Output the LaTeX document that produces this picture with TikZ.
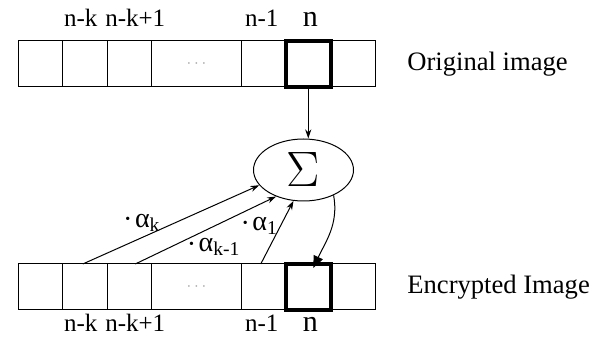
\documentclass[tikz,border=0pt]{standalone}
\usepackage{fontspec}
\setmainfont{Liberation Serif}
\usetikzlibrary{positioning, arrows.meta, shapes.geometric}

\newcommand{\wdot}{\raisebox{0.25ex}{\fontsize{7}{7}\selectfont•}\,}

\begin{document}
\begin{tikzpicture}[
  x=0.5pt, y=-0.5pt,
  node distance=0pt,
  cell/.style={
    draw, line width=0.5pt, inner sep=0pt, outer sep=0pt,
    minimum width=22.25pt, minimum height=23pt
  },
  widecell/.style={cell, minimum width=45pt, text=gray!70,
    font=\fontsize{8}{8}\selectfont},
  boldcell/.style={cell, line width=2pt},
  idx/.style={font=\rmfamily\fontsize{12.5}{12.5}\selectfont, inner sep=1pt,
    text height=8.5pt, text depth=0pt},
  bigidx/.style={idx, font=\rmfamily\fontsize{15}{15}\selectfont},
  caption/.style={font=\fontsize{13.3}{14}\selectfont, inner sep=0pt},
  coef/.style={font=\fontsize{14}{14}\selectfont, inner sep=1pt},
  flow/.style={-{Stealth[length=4.5pt,width=3pt]}, line width=0.5pt},
]
\useasboundingbox (0,0) rectangle (599,341);

% Original image row
\node[cell, anchor=west] (t0) at (18,64) {};
\node[cell, right=of t0] (t1) {};
\node[cell, right=of t1] (t2) {};
\node[widecell, right=of t2] (t3) {$\cdots$};
\node[cell, right=of t3] (t4) {};
\node[cell, right=of t4] (t5) {};
\node[cell, right=of t5] (t6) {};
\node[boldcell] at (t5) {};

\node[idx, above=6pt of t1, xshift=-2pt] {n-k};
\node[idx, above=6pt of t2, xshift=3pt] {n-k+1};
\node[idx, above=6pt of t4, xshift=-1pt] {n-1};
\node[bigidx, above=6pt of t5, xshift=1pt] {n};
\node[caption, right=16pt of t6] (orig) {Original image};

% Encrypted image row
\node[cell, anchor=west] (b0) at (18,287) {};
\node[cell, right=of b0] (b1) {};
\node[cell, right=of b1] (b2) {};
\node[widecell, right=of b2] (b3) {$\cdots$};
\node[cell, right=of b3] (b4) {};
\node[cell, right=of b4] (b5) {};
\node[cell, right=of b5] (b6) {};
\node[boldcell] at (b5) {};

\node[idx, below=1pt of b1, xshift=-2pt] {n-k};
\node[idx, below=1pt of b2, xshift=3pt] {n-k+1};
\node[idx, below=1pt of b4, xshift=-1pt] {n-1};
\node[bigidx, below=1pt of b5, xshift=1pt] {n};
\node[caption, right=16pt of b6] (enc) {Encrypted Image};

% Summation
\node[ellipse, draw, line width=0.5pt, inner sep=0pt,
      minimum width=50pt, minimum height=31pt,
      font=\fontsize{24}{24}\selectfont] (sigma) at (303.5,170) {$\Sigma$};

% Weighted inputs
\draw[flow] ([xshift=-1pt]b1.north) -- (sigma.199)
  node[coef, pos=0.33, above left=2pt and -11pt] {\wdot α\textsubscript{k}};
\draw[flow] ([xshift=3pt]b2.north) -- (sigma.224)
  node[coef, pos=0.45, below right=1pt and -6pt] {\wdot α\textsubscript{k-1}};
\draw[flow] ([xshift=-1.5pt]b4.north) -- (sigma.252)
  node[coef, pos=0.6, left=0pt] {\wdot α\textsubscript{1}};

% Input from original, output to encrypted
\draw[flow] (t5.south) -- (t5.south |- sigma.north);
\coordinate (hit) at ([xshift=2.5pt,yshift=-2pt]b5.north);
\draw[-{Triangle[length=6pt,width=5pt]}, line width=0.5pt]
  (sigma.-40) to[out=-80, in=65] (hit);
\end{tikzpicture}
\end{document}
